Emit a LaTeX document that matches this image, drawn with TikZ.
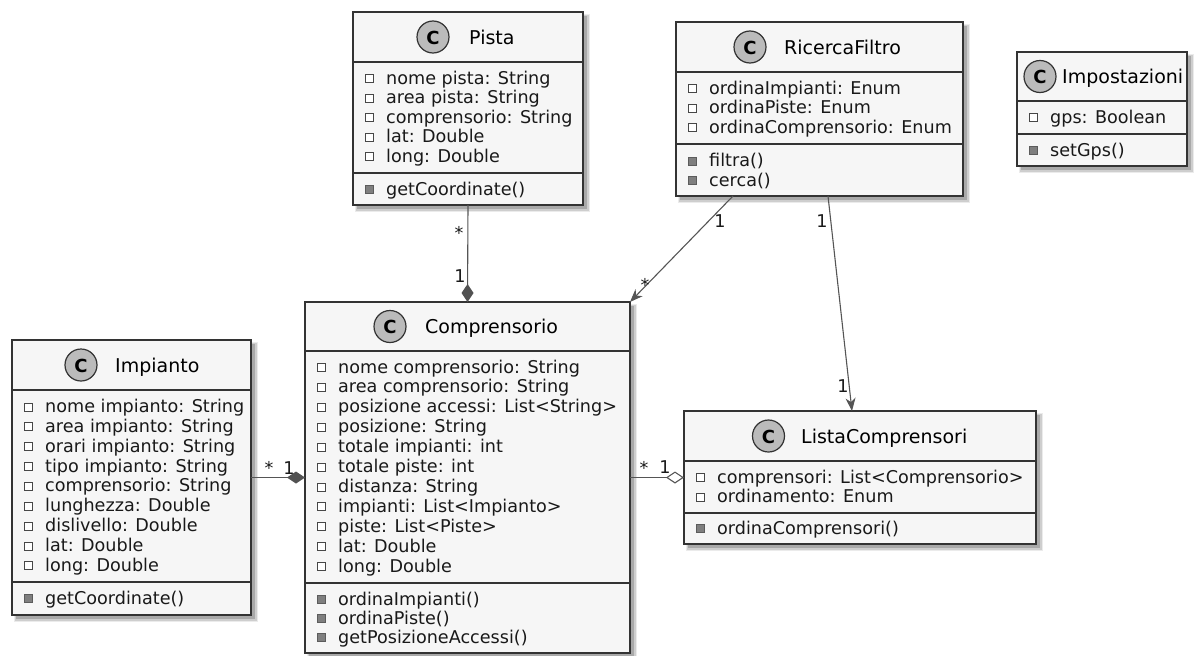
\documentclass[tikz,border=0pt]{standalone}
\usepackage{fontspec}
\setmainfont{DejaVu Sans}
\usetikzlibrary{arrows.meta}
\definecolor{boxfill}{HTML}{F6F6F6}
\definecolor{boxline}{HTML}{333333}
\definecolor{circfill}{HTML}{BBBBBB}
\definecolor{linkc}{HTML}{555555}
\definecolor{methfill}{HTML}{7F7F7F}
\newcommand\attrfont{\fontsize{17.6}{19.5}\selectfont}
\newcommand\namefont{\fontsize{19}{21}\selectfont}
\newcommand\cfont{\fontsize{18}{19}\selectfont\bfseries}
\tikzset{
  classbox/.style={draw=boxline, fill=boxfill, line width=1.5pt, inner sep=0pt, outer sep=0pt, rectangle},
  divline/.style={draw=boxline, line width=1.3pt},
  circ/.style={draw=boxline, fill=circfill, line width=1.2pt},
  sqhollow/.style={draw=boxline!90, fill=white, line width=0.8pt},
  sqfilled/.style={draw=boxline!80, fill=methfill, line width=0.8pt},
  attrtext/.style={anchor=base west, inner sep=0pt, font=\attrfont, text=black!90},
  link/.style={draw=linkc, line width=1.1pt},
  lbl/.style={anchor=base, inner sep=0pt, font=\attrfont, text=black!90},
}
% #1 name, #2 l, #3 t, #4 r, #5 b
\newcommand\umlbox[5]{%
  \fill[black, opacity=0.08] ({#2+2},{#3+2}) rectangle ({#4+7},{#5+7});
  \fill[black, opacity=0.12] ({#2+3},{#3+3}) rectangle ({#4+5.5},{#5+5.5});
  \fill[black, opacity=0.18] ({#2+4},{#3+4}) rectangle ({#4+4},{#5+4});
  \pgfmathsetmacro\ubcx{(#2+#4)/2}%
  \pgfmathsetmacro\ubcy{(#3+#5)/2}%
  \pgfmathsetmacro\ubw{#4-#2}%
  \pgfmathsetmacro\ubh{#5-#3}%
  \node[classbox, minimum width=\ubw pt, minimum height=\ubh pt] (#1) at (\ubcx,\ubcy) {};
}
% #1 name, #2 circle cx, #3 header cy, #4 name x, #5 text
\newcommand\umlhead[5]{%
  \draw[circ] (#2,#3) circle[radius=16];
  \node[font=\cfont, inner sep=0pt] (#1-c) at (#2,{#3+0.5}) {C};
  \node[anchor=base west, inner sep=0pt, font=\namefont] (#1-n) at (#4,{#3+7}) {#5};
}
% #1 l, #2 r, #3 y
\newcommand\umldiv[3]{\draw[divline] (#1,#3) -- (#2,#3);}
% #1 prefix, #2 l, #3 first baseline, #4 step, #5 list
\newcommand\umlattrs[5]{%
  \foreach \tx [count=\i from 0] in {#5} {%
    \draw[sqhollow] ({#2+12.5},{#3+\i*#4-9.5}) rectangle ({#2+20.5},{#3+\i*#4-1.5});
    \node[attrtext] (#1-\i) at ({#2+33},{#3+\i*#4}) {\tx};
  }%
}
\newcommand\umlmeths[5]{%
  \foreach \tx [count=\i from 0] in {#5} {%
    \draw[sqfilled] ({#2+12.5},{#3+\i*#4-9.5}) rectangle ({#2+20.5},{#3+\i*#4-1.5});
    \node[attrtext] (#1-\i) at ({#2+33},{#3+\i*#4}) {\tx};
  }%
}
\begin{document}
\begin{tikzpicture}[x=1pt,y=-1pt]
\useasboundingbox (0,0) rectangle (1195,656);

% Pista
\umlbox{pista}{353}{12}{583}{205}
\umldiv{353}{583}{62}
\umldiv{353}{583}{173}
\umlhead{pista}{433}{37}{469}{Pista}
\umlattrs{pa}{353}{84}{19.5}{nome pista: String, area pista: String, comprensorio: String, lat: Double, long: Double}
\umlmeths{pm}{353}{195}{19.5}{getCoordinate()}

% RicercaFiltro
\umlbox{rf}{676}{22}{963}{196}
\umldiv{676}{963}{72}
\umldiv{676}{963}{144}
\umlhead{rf}{750}{47}{784}{RicercaFiltro}
\umlattrs{ra}{676}{94}{19.5}{ordinaImpianti: Enum, ordinaPiste: Enum, ordinaComprensorio: Enum}
\umlmeths{rm}{676}{166.5}{19.8}{filtra(), cerca()}

% Impostazioni
\umlbox{imp2}{1017}{52}{1187}{166}
\umldiv{1017}{1187}{101}
\umldiv{1017}{1187}{134}
\umlhead{imp2}{1040}{76.5}{1062}{Impostazioni}
\umlattrs{ia}{1017}{123}{19.5}{gps: Boolean}
\umlmeths{im}{1017}{156}{19.5}{setGps()}

% Impianto
\umlbox{imp}{12}{340}{251}{615}
\umldiv{12}{251}{390}
\umldiv{12}{251}{582}
\umlhead{imp}{81}{365}{115}{Impianto}
\umlattrs{pia}{12}{412.5}{19.85}{nome impianto: String, area impianto: String, orari impianto: String, tipo impianto: String, comprensorio: String, lunghezza: Double, dislivello: Double, lat: Double, long: Double}
\umlmeths{pim}{12}{604}{19.5}{getCoordinate()}

% Comprensorio
\umlbox{comp}{305}{302}{630}{653}
\umldiv{305}{630}{351}
\umldiv{305}{630}{583}
\umlhead{comp}{390}{326.5}{425}{Comprensorio}
\umlattrs{ca}{305}{373}{19.9}{nome comprensorio: String, area comprensorio: String, posizione accessi: List<String>, posizione: String, totale impianti: int, totale piste: int, distanza: String, impianti: List<Impianto>, piste: List<Piste>, lat: Double, long: Double}
\umlmeths{cm}{305}{605}{19}{ordinaImpianti(), ordinaPiste(), getPosizioneAccessi()}

% ListaComprensori
\umlbox{lista}{684}{411}{1036}{544}
\umldiv{684}{1036}{461}
\umldiv{684}{1036}{513}
\umlhead{lista}{768.5}{436}{801}{ListaComprensori}
\umlattrs{la}{684}{483}{19.5}{comprensori: List<Comprensorio>, ordinamento: Enum}
\umlmeths{lm}{684}{534}{19.5}{ordinaComprensori()}

% connectors
\draw[link, -{Diamond[length=18pt,width=12pt,fill=boxline!85,color=boxline!85]}] (pista.south) -- (comp.north);
\node[lbl] (l1) at (459,239) {*};
\node[lbl] (l2) at (460,282) {1};

\draw[link, -{Stealth[length=13pt,width=10pt,inset=4pt]}] ([xshift=57pt]rf.south west) -- (comp.north east);
\node[lbl] (l3) at (720,227) {1};
\node[lbl] (l4) at (645,291) {*};

\draw[link, -{Stealth[length=13pt,width=10pt,inset=4pt]}] ([xshift=152pt]rf.south west) -- ([xshift=168pt]lista.north west);
\node[lbl] (l5) at (822,227) {1};
\node[lbl] (l6) at (843,392) {1};

\draw[link, -{Diamond[length=18pt,width=12pt,fill=boxline!85,color=boxline!85]}] (imp.east) -- (comp.west);
\node[lbl] (l7) at (269,474) {*};
\node[lbl] (l8) at (289,474) {1};

\draw[link, -{Diamond[length=18pt,width=12pt,fill=white]}] (comp.east) -- (lista.west);
\node[lbl] (l9) at (644,474) {*};
\node[lbl] (l10) at (665,473) {1};
\end{tikzpicture}
\end{document}
